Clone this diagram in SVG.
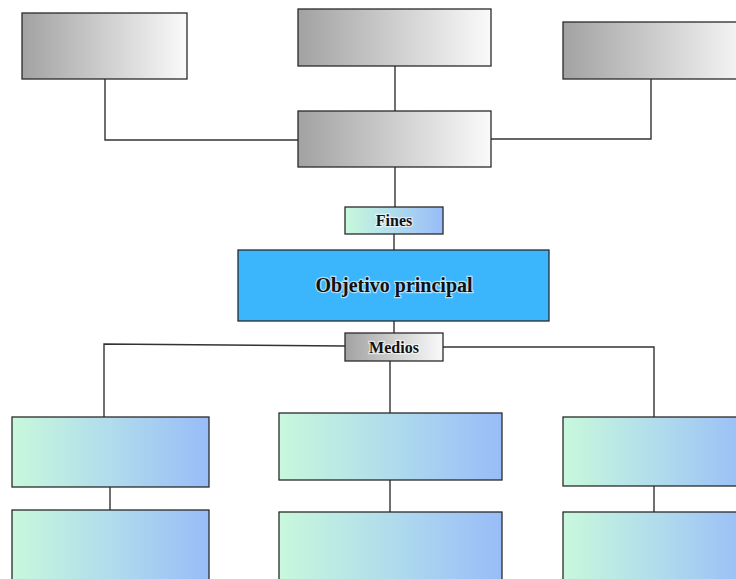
<svg xmlns="http://www.w3.org/2000/svg" width="736" height="579" viewBox="0 0 736 579">
<defs>
<linearGradient id="gray" x1="0" y1="0" x2="1" y2="0">
<stop offset="0" stop-color="#a2a2a2"/>
<stop offset="1" stop-color="#fafafa"/>
</linearGradient>
<linearGradient id="gb" x1="0" y1="0" x2="1" y2="0">
<stop offset="0" stop-color="#c8f8dc"/>
<stop offset="0.5" stop-color="#b0dcec"/>
<stop offset="1" stop-color="#98bcf8"/>
</linearGradient>
<style>
.g{fill:url(#gray);stroke:#2a2a2a;stroke-width:1.3}
.b{fill:url(#gb);stroke:#2a2a2a;stroke-width:1.3}
.c{fill:none;stroke:#333;stroke-width:1.4}
.t{font-family:"Liberation Serif","Times New Roman",serif;font-weight:bold;fill:#111;text-anchor:middle;stroke:#fff;stroke-width:2.5;stroke-opacity:0.6;paint-order:stroke}
</style>
</defs>
<g id="connectors">
<path class="c" d="M105 79 V140 H298"/>
<path class="c" d="M395 66 V111"/>
<path class="c" d="M651 79 V139 H491"/>
<path class="c" d="M395 167 V207"/>
<path class="c" d="M394 234 V250"/>
<path class="c" d="M394 321 V333"/>
<path class="c" d="M345 346 L104 344 V417"/>
<path class="c" d="M443 347 H654 V417"/>
<path class="c" d="M390 361 V413"/>
<path class="c" d="M110 487 V510"/>
<path class="c" d="M390 480 V512"/>
<path class="c" d="M654 486 V512"/>
</g>
<g id="top-left"><rect class="g" x="22" y="13" width="165" height="66"/></g>
<g id="top-center"><rect class="g" x="298" y="9" width="193" height="57"/></g>
<g id="top-right"><rect class="g" x="563" y="22" width="190" height="57"/></g>
<g id="middle"><rect class="g" x="298" y="111" width="193" height="56"/></g>
<g id="fines"><rect class="b" x="345" y="207" width="98" height="27"/><text class="t" x="394" y="226" font-size="16">Fines</text></g>
<g id="objetivo"><rect x="238" y="250" width="311" height="71" fill="#3bb5fb" stroke="#2a2a2a" stroke-width="1.3"/><text class="t" x="394" y="292" font-size="20">Objetivo principal</text></g>
<g id="medios"><rect class="g" x="345" y="333" width="98" height="28"/><text class="t" x="394" y="353" font-size="16">Medios</text></g>
<g id="left-1"><rect class="b" x="12" y="417" width="197" height="70"/></g>
<g id="left-2"><rect class="b" x="12" y="510" width="197" height="80"/></g>
<g id="center-1"><rect class="b" x="279" y="413" width="223" height="67"/></g>
<g id="center-2"><rect class="b" x="279" y="512" width="223" height="80"/></g>
<g id="right-1"><rect class="b" x="563" y="417" width="190" height="69"/></g>
<g id="right-2"><rect class="b" x="563" y="512" width="190" height="80"/></g>
</svg>
